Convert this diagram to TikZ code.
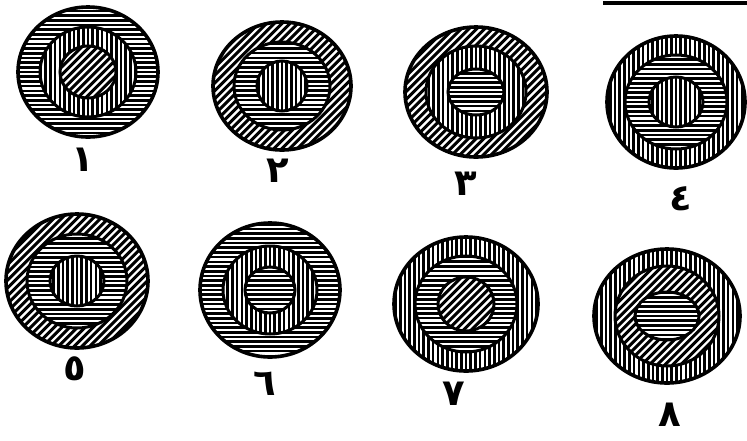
\documentclass[tikz,border=0pt]{standalone}
\usepackage{fontspec}
\newfontfamily\arabicfont[Script=Arabic]{DejaVu Sans}
\TeXXeTstate=1
\tikzset{
  hl/.style={line width=2.6pt, black},
  dl/.style={line width=3pt, black},
  rim/.style={line width=3.6pt, black},
  seam/.style={line width=3pt, black},
  numlabel/.style={font=\arabicfont\bfseries\fontsize{37}{37}\selectfont, inner sep=0pt}
}
\newcommand\hatchH[4]{\foreach \k in {-18,...,18} {\draw[hl] ({#1-#3-3},{#2+\k*4.7}) -- ({#1+#3+3},{#2+\k*4.7});}}
\newcommand\hatchV[4]{\foreach \k in {-18,...,18} {\draw[hl] ({#1+\k*4.7},{#2-#4-3}) -- ({#1+\k*4.7},{#2+#4+3});}}
\newcommand\hatchD[4]{\foreach \k in {-26,...,26} {\draw[dl] ({#1-#3-5},{#2+#3+5+\k*7.8}) -- ({#1+#3+5},{#2-#3-5+\k*7.8});}}
\newcommand\layer[5]{%
  \begin{scope}
    \clip (#1,#2) ellipse [x radius=#3, y radius=#4];
    \fill[white] (#1,#2) ellipse [x radius=#3, y radius=#4];
    \csname hatch#5\endcsname{#1}{#2}{#3}{#4}
  \end{scope}}
% \orx,\ory set before each target
% target: cx cy | outer type | middle rx ry type | inner rx ry type
\newcommand\target[9]{%
  \layer{#1}{#2}{\orx}{\ory}{#3}
  \layer{#1}{#2}{#4}{#5}{#6}
  \layer{#1}{#2}{#7}{#8}{#9}
  \draw[seam] (#1,#2) ellipse [x radius=#7, y radius=#8];
  \draw[seam] (#1,#2) ellipse [x radius=#4, y radius=#5];
  \draw[rim] (#1,#2) ellipse [x radius=\orx, y radius=\ory];}
\begin{document}
\begin{tikzpicture}[x=1pt,y=-1pt]
\useasboundingbox (0,0) rectangle (747,440);
\fill[white] (0,0) rectangle (747,440);
% row 1
\def\orx{70}\def\ory{65}
\target{88}{72}{H}{48}{45}{V}{28}{26}{D}
\def\orx{69}\def\ory{64}
\target{282}{86}{D}{48}{44}{H}{25}{25}{V}
\def\orx{71}\def\ory{65}
\target{476}{92}{D}{50}{46}{V}{28}{23}{H}
\def\orx{69}\def\ory{66}
\target{676}{102}{V}{51}{47}{H}{27}{25}{V}
% row 2
\def\orx{71}\def\ory{67}
\target{77}{281}{D}{50}{47}{H}{27}{25}{V}
\def\orx{70}\def\ory{67}
\target{270}{290}{H}{47}{44}{V}{25}{23}{H}
\def\orx{72}\def\ory{67}
\target{466}{304}{V}{51}{48}{H}{28}{27}{D}
\def\orx{73}\def\ory{67}
\target{667}{316}{V}{52}{50}{D}{32}{24}{H}
% top right rule
\coordinate (ra) at (603,3);
\coordinate (rb) at (747,3);
\draw[line width=3.5pt] (ra) -- (rb);
% labels
\node[numlabel] (l1) at (83,160) {\beginR ١\endR};
\node[numlabel] (l2) at (278,171) {\beginR ٢\endR};
\node[numlabel] (l3) at (466,184) {\beginR ٣\endR};
\node[numlabel] (l4) at (681,199) {\beginR ٤\endR};
\node[numlabel] (l5) at (75,369) {\beginR ٥\endR};
\node[numlabel] (l6) at (265,384) {\beginR ٦\endR};
\node[numlabel] (l7) at (454,394) {\beginR ٧\endR};
\node[numlabel] (l8) at (670,415) {\beginR ٨\endR};
\end{tikzpicture}
\end{document}
